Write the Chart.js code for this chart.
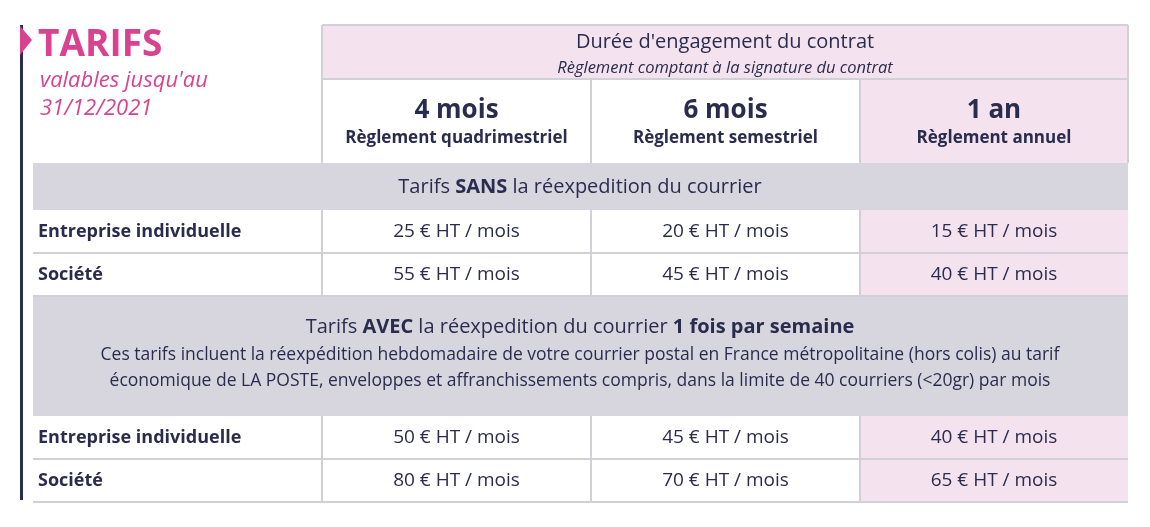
<!DOCTYPE html>
<html><head><meta charset="utf-8">
<script src="https://cdn.jsdelivr.net/npm/chart.js@4"></script>
<style>html,body{margin:0;background:#fff}canvas{display:block}</style>
</head><body>
<canvas id="c" width="1150" height="527"></canvas>
<script>
// table content
const durations = ['4 mois', '6 mois', '1 an'];
const payments = ['Règlement quadrimestriel', 'Règlement semestriel', 'Règlement annuel'];
const clients = ['Entreprise individuelle', 'Société'];
const pricesSans = [[25, 20, 15], [55, 45, 40]];
const pricesAvec = [[50, 45, 40], [80, 70, 65]];
const sectionNotes = [
  'Ces tarifs incluent la réexpédition hebdomadaire de votre courrier postal en France métropolitaine (hors colis) au tarif',
  'économique de LA POSTE, enveloppes et affranchissements compris, dans la limite de 40 courriers (<20gr) par mois'
];

const NAVY = '#2a2c4e', PINK = '#f4e2ee', GREY = '#d7d6df', LINE = '#d0d0d6', MAG = '#d9428f';
const FONT = '"Open Sans"';
const colX = [33, 322, 591, 860, 1128];

const tablePlugin = {
  id: 'table',
  afterDraw(chart) {
    const ctx = chart.ctx, sx = chart.scales.x, sy = chart.scales.y;
    const X = v => sx.getPixelForValue(v), Y = v => sy.getPixelForValue(v);
    const rect = (x0, y0, x1, y1, c) => { ctx.fillStyle = c; ctx.fillRect(X(x0), Y(y0), X(x1) - X(x0), Y(y1) - Y(y0)); };
    const hline = (x0, x1, y) => { ctx.strokeStyle = LINE; ctx.lineWidth = 2; ctx.beginPath(); ctx.moveTo(X(x0), Y(y)); ctx.lineTo(X(x1), Y(y)); ctx.stroke(); };
    const vline = (x, y0, y1) => { ctx.strokeStyle = LINE; ctx.lineWidth = 2; ctx.beginPath(); ctx.moveTo(X(x), Y(y0)); ctx.lineTo(X(x), Y(y1)); ctx.stroke(); };
    const text = (s, x, y, font, color, align) => { ctx.font = font; ctx.fillStyle = color || NAVY; ctx.textAlign = align || 'center'; ctx.textBaseline = 'middle'; ctx.fillText(s, X(x), Y(y)); };
    const rich = (parts, cx, y, size) => {
      let w = 0;
      parts.forEach(p => { ctx.font = (p[1] ? 'bold ' : '') + size + 'px ' + FONT; w += ctx.measureText(p[0]).width; });
      let x = X(cx) - w / 2;
      parts.forEach(p => { ctx.font = (p[1] ? 'bold ' : '') + size + 'px ' + FONT; ctx.fillStyle = NAVY; ctx.textAlign = 'left'; ctx.textBaseline = 'middle'; ctx.fillText(p[0], x, Y(y)); x += ctx.measureText(p[0]).width; });
    };
    ctx.save();
    // left marker
    ctx.fillStyle = NAVY; ctx.fillRect(X(20), Y(25), 3, Y(500) - Y(25));
    ctx.fillStyle = MAG; ctx.beginPath(); ctx.moveTo(X(20), Y(26)); ctx.lineTo(X(32), Y(40)); ctx.lineTo(X(20), Y(55)); ctx.closePath(); ctx.fill();
    text('TARIFS', 38, 45, 'bold 37px ' + FONT, MAG, 'left');
    text('valables jusqu\'au', 40, 81, 'italic 22px ' + FONT, MAG, 'left');
    text('31/12/2021', 40, 109, 'italic 22px ' + FONT, MAG, 'left');

    // backgrounds
    rect(322, 25, 1128, 79, PINK);
    rect(860, 79, 1128, 163, PINK);
    rect(33, 163, 1128, 210, GREY);
    rect(33, 296, 1128, 416, GREY);
    [210, 253, 416, 459].forEach(y => rect(860, y, 1128, y + 43, PINK));

    // grid
    hline(322, 1128, 25); vline(322, 25, 163); vline(1128, 25, 163);
    hline(322, 1128, 79);
    vline(591, 79, 163); vline(860, 79, 163);
    [253, 296, 459, 502].forEach(y => hline(33, 1128, y));
    [[210, 296], [416, 502]].forEach(r => [322, 591, 860].forEach(x => vline(x, r[0], r[1])));

    // header
    text('Durée d\'engagement du contrat', 725, 42, '20px ' + FONT);
    text('Règlement comptant à la signature du contrat', 725, 68, 'italic 16.5px ' + FONT);
    durations.forEach((d, i) => {
      const cx = (colX[i + 1] + colX[i + 2]) / 2;
      text(d, cx, 111, 'bold 26px ' + FONT);
      text(payments[i], cx, 138, 'bold 17px ' + FONT);
    });

    // sections
    rich([['Tarifs ', 0], ['SANS', 1], [' la réexpedition du courrier', 0]], 580, 187, 20);
    rich([['Tarifs ', 0], ['AVEC', 1], [' la réexpedition du courrier ', 0], ['1 fois par semaine', 1]], 580, 327, 20);
    text(sectionNotes[0], 580, 355, '17.5px ' + FONT);
    text(sectionNotes[1], 580, 381, '17.5px ' + FONT);

    const rows = (prices, y0) => prices.forEach((row, r) => {
      const cy = y0 + r * 43 + 22;
      text(clients[r], 38, cy, 'bold 18px ' + FONT, NAVY, 'left');
      row.forEach((p, i) => text(p + ' € HT / mois', (colX[i + 1] + colX[i + 2]) / 2, cy, '19px ' + FONT));
    });
    rows(pricesSans, 210);
    rows(pricesAvec, 416);
    ctx.restore();
  }
};

new Chart(document.getElementById('c'), {
  type: 'scatter',
  data: { datasets: [{ data: [] }] },
  options: {
    responsive: false, animation: false, devicePixelRatio: 1,
    layout: { padding: 0 },
    plugins: { legend: { display: false }, tooltip: { enabled: false } },
    scales: {
      x: { type: 'linear', min: 0, max: 1150, display: false },
      y: { type: 'linear', min: 0, max: 527, reverse: true, display: false }
    }
  },
  plugins: [tablePlugin]
});
</script>
</body></html>
